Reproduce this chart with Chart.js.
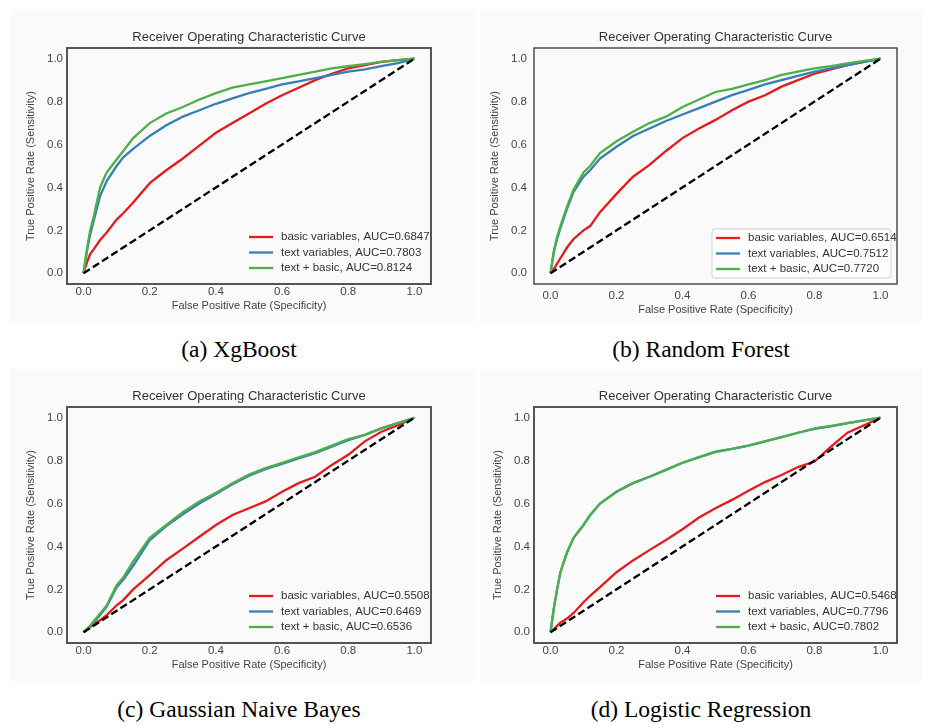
<!DOCTYPE html>
<html>
<head>
<meta charset="utf-8">
<script src="https://cdn.jsdelivr.net/npm/chart.js@4.4.1/dist/chart.umd.min.js"></script>
<style>
  body { margin: 0; background: #fff; width: 927px; height: 725px; position: relative; overflow: hidden; }
  canvas { position: absolute; background: #fafafa; }
  .cap { position: absolute; font-family: "Liberation Serif", "Times New Roman", serif; font-size: 23.5px; color: #000; text-align: center; }
</style>
</head>
<body>
<canvas id="pa" width="466" height="312" style="left:10px;top:10px"></canvas>
<canvas id="pb" width="442" height="312" style="left:480px;top:10px"></canvas>
<canvas id="pc" width="466" height="312" style="left:10px;top:369px"></canvas>
<canvas id="pd" width="442" height="312" style="left:480px;top:369px"></canvas>
<div class="cap" style="left:6px;width:466px;top:336px">(a) XgBoost</div>
<div class="cap" style="left:480px;width:442px;top:336px">(b) Random Forest</div>
<div class="cap" style="left:6px;width:466px;top:696px">(c) Gaussian Naive Bayes</div>
<div class="cap" style="left:480px;width:442px;top:696px">(d) Logistic Regression</div>
<script>
// false positive rate grid shared by every curve
const fpr = [0, 0.01, 0.02, 0.03, 0.05, 0.07, 0.1, 0.12, 0.15, 0.2, 0.25, 0.3, 0.35, 0.4, 0.45, 0.5, 0.55, 0.6, 0.65, 0.7, 0.75, 0.8, 0.85, 0.9, 0.95, 1];
const chanceX = [0, 1];
const chanceY = [0, 1];

// (a) XgBoost
const xgbBasic = [0, .05, .09, .11, .155, .19, .25, .28, .33, .42, .48, .535, .595, .655, .70, .745, .79, .83, .865, .90, .93, .955, .97, .985, .993, 1];
const xgbText  = [0, .10, .18, .24, .36, .43, .50, .54, .58, .64, .69, .73, .76, .79, .815, .84, .86, .88, .895, .91, .925, .94, .95, .965, .98, 1];
const xgbBoth  = [0, .11, .20, .26, .40, .47, .53, .57, .63, .70, .745, .775, .81, .84, .865, .88, .895, .91, .925, .94, .955, .965, .975, .985, .993, 1];
const xgbAuc = ['0.6847', '0.7803', '0.8124'];

// (b) Random Forest
const rfBasic = [0, .02, .045, .07, .12, .16, .20, .22, .285, .37, .45, .505, .57, .63, .675, .715, .76, .80, .83, .87, .90, .93, .95, .97, .985, 1];
const rfText  = [0, .10, .16, .21, .30, .38, .45, .48, .535, .59, .64, .675, .71, .74, .77, .80, .83, .855, .88, .90, .92, .94, .955, .97, .985, 1];
const rfBoth  = [0, .10, .17, .22, .31, .39, .47, .50, .56, .615, .66, .70, .73, .775, .81, .845, .86, .88, .90, .925, .94, .955, .965, .978, .99, 1];
const rfAuc = ['0.6514', '0.7512', '0.7720'];

// (c) Gaussian Naive Bayes
const gnbBasic = [0, .012, .025, .035, .056, .08, .126, .15, .20, .266, .336, .39, .445, .50, .547, .578, .61, .655, .695, .725, .78, .827, .89, .935, .965, 1];
const gnbText  = [0, .015, .03, .045, .08, .12, .21, .245, .31, .43, .495, .55, .60, .645, .69, .73, .76, .785, .81, .835, .865, .895, .92, .95, .975, 1];
const gnbBoth  = [0, .015, .03, .05, .087, .125, .22, .255, .33, .44, .50, .56, .61, .65, .695, .735, .765, .79, .815, .84, .87, .90, .92, .95, .975, 1];
const gnbAuc = ['0.5508', '0.6469', '0.6536'];

// (d) Logistic Regression
const lrBasic = [0, .015, .03, .045, .064, .09, .14, .17, .21, .28, .335, .383, .43, .48, .535, .578, .617, .66, .70, .733, .77, .796, .865, .93, .965, 1];
const lrText  = [0, .11, .20, .28, .37, .44, .50, .545, .60, .655, .695, .725, .757, .79, .817, .842, .855, .87, .89, .91, .93, .948, .96, .975, .988, 1];
const lrBoth  = [0, .11, .20, .28, .375, .44, .50, .547, .60, .655, .695, .725, .757, .79, .815, .84, .855, .87, .89, .91, .93, .95, .962, .975, .988, 1];
const lrAuc = ['0.5468', '0.7796', '0.7802'];

const seriesNames = ['basic variables', 'text variables', 'text + basic'];
const seriesColors = ['#e41a1c', '#377eb8', '#4daf4a'];
const axisTicks = [0, 0.2, 0.4, 0.6, 0.8, 1.0];
const chartTitle = 'Receiver Operating Characteristic Curve';
const xTitle = 'False Positive Rate (Specificity)';
const yTitle = 'True Positive Rate (Sensitivity)';

const FONT = '"Liberation Sans", Arial, sans-serif';

// frame, title and in-axes legend
const rocText = {
  id: 'rocText',
  afterDraw(chart, args, o) {
    const {ctx, chartArea: a} = chart;
    ctx.save();
    ctx.strokeStyle = o.frameColor;
    ctx.lineWidth = o.frameWidth;
    ctx.strokeRect(a.left, a.top, a.right - a.left, a.bottom - a.top);

    ctx.fillStyle = '#333';
    ctx.font = '13px ' + FONT;
    ctx.textAlign = 'center';
    ctx.textBaseline = 'middle';
    ctx.fillText(chartTitle, (a.left + a.right) / 2, 27);

    const lg = o.legend;
    if (lg.box) {
      const [bx, by, bw, bh] = lg.box;
      ctx.beginPath();
      ctx.roundRect(bx, by, bw, bh, 3);
      ctx.fillStyle = 'rgba(255,255,255,0.8)';
      ctx.fill();
      ctx.strokeStyle = '#d0d0d0';
      ctx.lineWidth = 1;
      ctx.stroke();
    }
    ctx.font = '11.5px ' + FONT;
    ctx.textAlign = 'left';
    seriesNames.forEach((name, i) => {
      const y = lg.y + i * 15.5;
      ctx.strokeStyle = seriesColors[i];
      ctx.lineWidth = 2.3;
      ctx.beginPath();
      ctx.moveTo(lg.x, y);
      ctx.lineTo(lg.x + 24, y);
      ctx.stroke();
      ctx.fillStyle = '#333';
      ctx.fillText(name + ', AUC=' + o.auc[i], lg.x + 32, y);
    });
    ctx.restore();
  }
};

function pts(xs, ys) {
  return xs.map((x, i) => ({x: x, y: ys[i]}));
}

function makeChart(id, curves, auc, s) {
  const datasets = [{
    data: pts(chanceX, chanceY),
    borderColor: '#000', borderWidth: 2.3, borderDash: [7.5, 3.5], order: 0
  }];
  curves.forEach((c, i) => {
    datasets.push({data: pts(fpr, c), borderColor: seriesColors[i], borderWidth: 2.3, order: 3 - i});
  });
  const tickFont = {family: FONT, size: 11.5};
  const titleFont = {family: FONT, size: 11};
  new Chart(document.getElementById(id), {
    type: 'line',
    data: {datasets: datasets},
    options: {
      responsive: false,
      animation: false,
      layout: {padding: {left: 0, right: s.right, top: 38, bottom: 0}},
      elements: {point: {radius: 0}, line: {tension: 0, fill: false}},
      plugins: {
        legend: {display: false},
        tooltip: {enabled: false},
        rocText: {frameColor: s.frameColor, frameWidth: s.frameWidth, legend: s.legend, auc: auc}
      },
      scales: {
        x: {
          type: 'linear', min: -0.05, max: 1.05,
          afterBuildTicks: sc => { sc.ticks = axisTicks.map(v => ({value: v})); },
          afterFit: sc => { sc.height = 38; },
          ticks: {callback: v => v.toFixed(1), color: '#444', font: tickFont, padding: s.xPad, maxRotation: 0},
          grid: {display: false, drawTicks: false},
          border: {display: false},
          title: {display: true, text: xTitle, color: '#444', font: titleFont, padding: {top: 0, bottom: s.xTitlePad}}
        },
        y: {
          type: 'linear', min: -0.05, max: 1.05,
          afterBuildTicks: sc => { sc.ticks = axisTicks.map(v => ({value: v})); },
          afterFit: sc => { sc.width = s.yWidth; },
          ticks: {callback: v => v.toFixed(1), color: '#444', font: tickFont, padding: s.yPad},
          grid: {display: false, drawTicks: false},
          border: {display: false},
          title: {display: true, text: yTitle, color: '#444', font: titleFont, padding: {top: s.yTitlePad, bottom: 0}}
        }
      }
    },
    plugins: [rocText]
  });
}

const leftStyle = {right: 45, yWidth: 57, yPad: 4, yTitlePad: 14.8, xPad: 1.2, xTitlePad: 9.4, frameColor: '#555', frameWidth: 2};

makeChart('pa', [xgbBasic, xgbText, xgbBoth], xgbAuc,
  Object.assign({}, leftStyle, {legend: {x: 239, y: 227}}));
makeChart('pb', [rfBasic, rfText, rfBoth], rfAuc,
  {right: 25, yWidth: 54, yPad: 7, yTitlePad: 8.8, xPad: 5.2, xTitlePad: 5.4, frameColor: '#333', frameWidth: 1.3,
   legend: {x: 236, y: 228, box: [232, 219, 179, 49]}});
makeChart('pc', [gnbBasic, gnbText, gnbBoth], gnbAuc,
  Object.assign({}, leftStyle, {legend: {x: 239, y: 227}}));
makeChart('pd', [lrBasic, lrText, lrBoth], lrAuc,
  {right: 25, yWidth: 54, yPad: 4, yTitlePad: 11.8, xPad: 1.2, xTitlePad: 9.4, frameColor: '#555', frameWidth: 2,
   legend: {x: 236, y: 227}});
</script>
</body>
</html>
